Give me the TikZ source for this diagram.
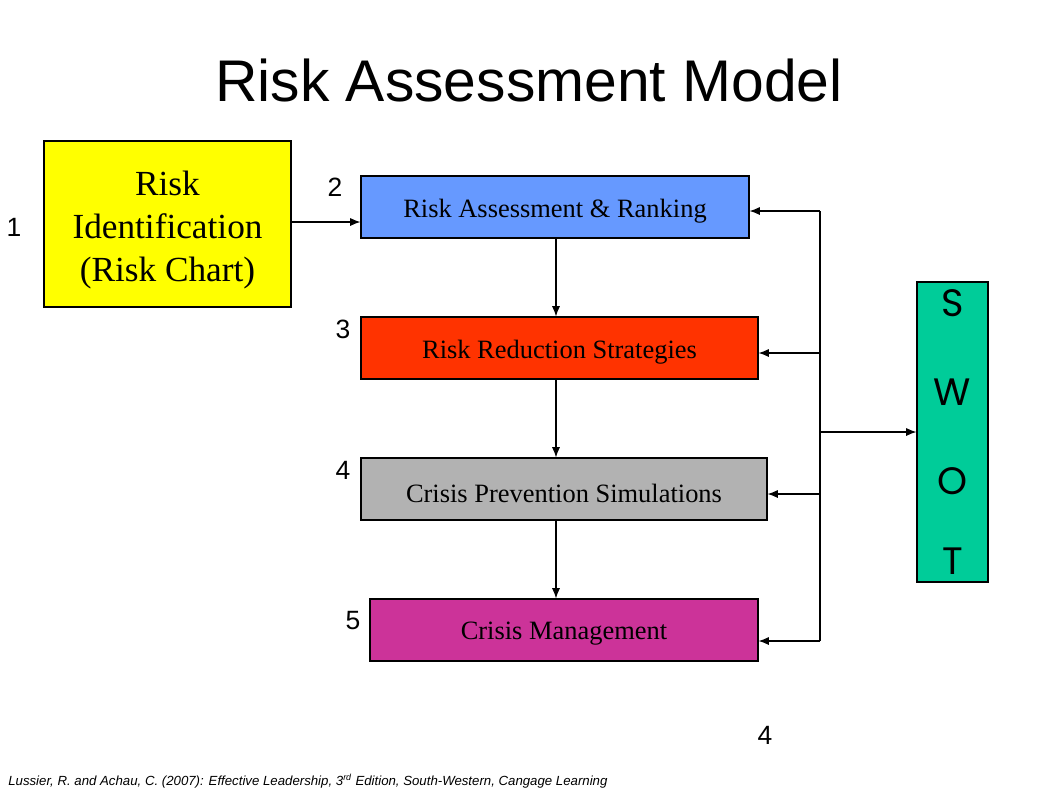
\documentclass[tikz,border=0pt]{standalone}
\usepackage{fontspec}
\setmainfont{Liberation Serif}
\newfontfamily\arialf{Liberation Sans}
\newfontfamily\gothf{Poppins}
\usetikzlibrary{arrows.meta}
\definecolor{cyellow}{HTML}{FFFF00}
\definecolor{cblue}{HTML}{6699FF}
\definecolor{cred}{HTML}{FF3300}
\definecolor{cgray}{HTML}{B2B2B2}
\definecolor{cmag}{HTML}{CC3399}
\definecolor{cgreen}{HTML}{00CC99}
\tikzset{
  box/.style={draw=black, line width=0.8pt, inner sep=0pt},
  boxtext/.style={inner sep=0pt, font=\fontsize{18}{21}\selectfont},
  num/.style={font=\arialf\fontsize{18}{21}\selectfont, inner sep=0pt},
  swotl/.style={font=\gothf\fontsize{26}{28}\selectfont, inner sep=0pt},
  conn/.style={line width=0.7pt, -{Latex[length=7pt,width=5.5pt]}},
  line/.style={line width=0.7pt}
}
\begin{document}
\begin{tikzpicture}[x=0.6805pt, y=-0.6805pt]
\useasboundingbox[fill=white] (0,0) rectangle (1058,793);
% title
\node[font=\arialf\fontsize{40}{48}\selectfont, inner sep=0pt] (title) at (529,80) {Risk Assessment Model};
% boxes
\node[box, fill=cyellow, minimum width=247*0.6805pt, minimum height=166*0.6805pt] (ident) at (167.5,224) {};
\node[align=center, inner sep=0pt, font=\fontsize{24}{29.3}\selectfont] (identt) at (167.5,230) {Risk\\Identification\\(Risk Chart)};
\node[box, fill=cblue, minimum width=388*0.6805pt, minimum height=62*0.6805pt] (assess) at (555,207) {};
\node[boxtext] (assesst) at (555,211) {Risk Assessment \& Ranking};
\node[box, fill=cred, minimum width=397*0.6805pt, minimum height=62*0.6805pt] (reduce) at (559.5,348) {};
\node[boxtext] (reducet) at (559.5,352) {Risk Reduction Strategies};
\node[box, fill=cgray, minimum width=406*0.6805pt, minimum height=62*0.6805pt] (prevent) at (564,489) {};
\node[boxtext] (preventt) at (564,493) {Crisis Prevention Simulations};
\node[box, fill=cmag, minimum width=388*0.6805pt, minimum height=62*0.6805pt] (manage) at (564,630) {};
\node[boxtext] (managet) at (564,634) {Crisis Management};
\node[box, fill=cgreen, minimum width=71*0.6805pt, minimum height=300*0.6805pt] (swot) at (952.5,432) {};
\node[swotl] (ls) at (952.5,303) {S};
\node[swotl] (lw) at (952.5,392) {W};
\node[swotl] (lo) at (952.5,481) {O};
\node[swotl] (lt) at (952.5,561) {T};
% numbers
\node[num] (n1) at (14,227) {1};
\node[num] (n2) at (335,187) {2};
\node[num] (n3) at (343,329) {3};
\node[num] (n4) at (343,470) {4};
\node[num] (n5) at (353,621) {5};
\node[num] (n6) at (765,735) {4};
% flow arrows
\draw[conn] (ident.east |- 0,222) -- (assess.west |- 0,222);
\draw[conn] (assess.south -| 556,0) -- (reduce.north -| 556,0);
\draw[conn] (reduce.south -| 556,0) -- (prevent.north -| 556,0);
\draw[conn] (prevent.south -| 556,0) -- (manage.north -| 556,0);
% bus
\coordinate (bt) at (820,211);
\coordinate (b2) at (820,353);
\coordinate (bm) at (820,432);
\coordinate (b3) at (820,494);
\coordinate (bb) at (820,641);
\draw[line] (bt) -- (bb);
\draw[conn] (bt) -- (assess.east |- bt);
\draw[conn] (b2) -- (reduce.east |- b2);
\draw[conn] (b3) -- (prevent.east |- b3);
\draw[conn] (bb) -- (manage.east |- bb);
\draw[conn] (bm) -- (swot.west |- bm);
% citation
\node[anchor=west, inner sep=0pt, font=\arialf\itshape\fontsize{9}{11}\selectfont] (cite) at (8,781)
  {Lussier, R. and Achau, C. (2007): Effective Leadership, 3\textsuperscript{rd} Edition, South-Western, Cangage Learning};
\end{tikzpicture}
\end{document}
